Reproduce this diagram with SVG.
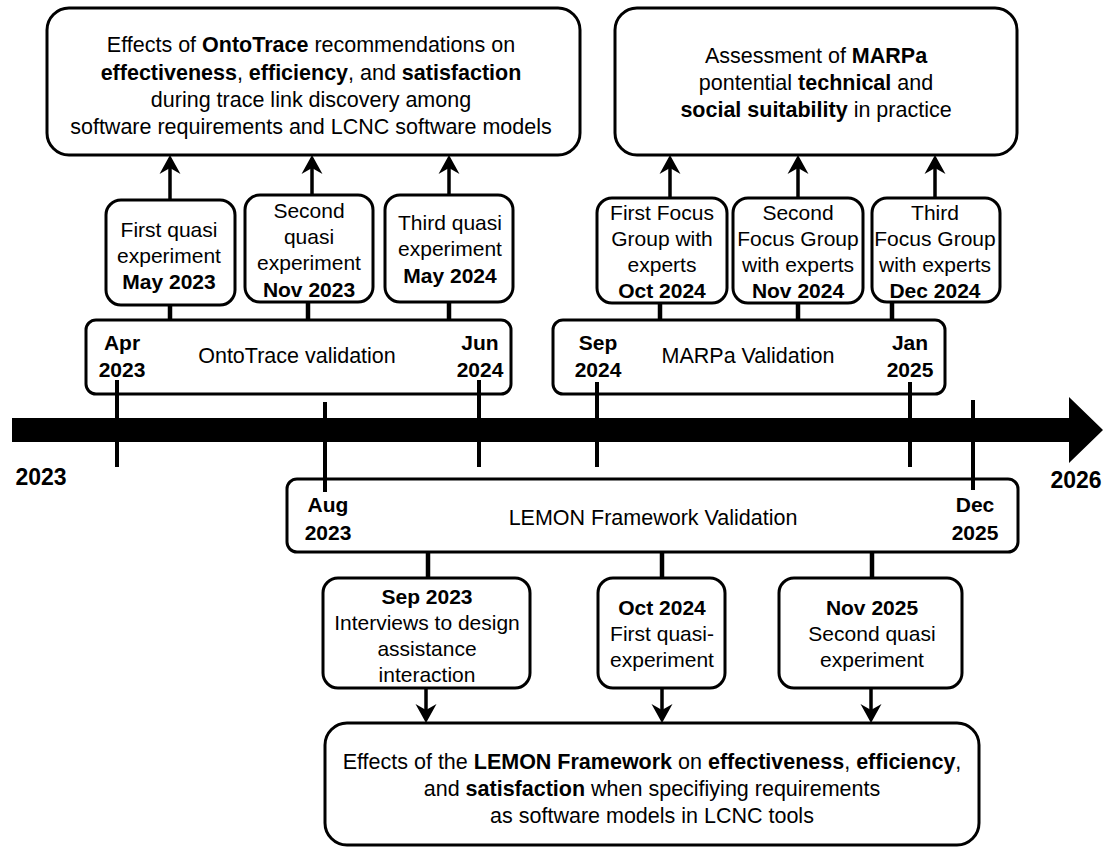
<svg xmlns="http://www.w3.org/2000/svg" width="1103" height="849" viewBox="0 0 1103 849">
<style>
  .box{fill:#fff;stroke:#000;stroke-width:3}
  text{font-family:"Liberation Sans",Arial,sans-serif;fill:#000;text-anchor:middle}
  .t{font-size:21px}
  .tl{font-size:21.5px}
  .b{font-weight:bold}
  .yr{font-size:23px;font-weight:bold}
  .con{stroke:#000;stroke-width:4.5;fill:none}
  .arr{stroke:#000;stroke-width:3.5;fill:none;marker-end:url(#ah)}
  .tick{stroke:#000;stroke-width:4}
</style>
<defs>
  <marker id="ah" markerUnits="userSpaceOnUse" markerWidth="20" markerHeight="24" viewBox="0 0 20 24" refX="7" refY="11.5" orient="auto">
    <path d="M0,1 L19,11.5 L0,22 L6,11.5 Z" fill="#000"/>
  </marker>
</defs>
<rect width="1103" height="849" fill="#fff"/>

<g id="timeline">
  <polygon points="12,418 1069,418 1069,397 1103,430 1069,463 1069,442 12,442" fill="#000"/>
  <text class="yr" x="41" y="485">2023</text>
  <text class="yr" x="1076" y="488">2026</text>
</g>

<g id="connectors">
  <line class="arr" x1="170" y1="200" x2="170" y2="167"/>
  <line class="arr" x1="312" y1="195" x2="312" y2="167"/>
  <line class="arr" x1="449" y1="195" x2="449" y2="167"/>
  <line class="arr" x1="670" y1="198" x2="670" y2="167"/>
  <line class="arr" x1="798" y1="198" x2="798" y2="167"/>
  <line class="arr" x1="935" y1="198" x2="935" y2="167"/>
  <line class="con" x1="170" y1="305" x2="170" y2="320"/>
  <line class="con" x1="308" y1="302" x2="308" y2="320"/>
  <line class="con" x1="449" y1="302" x2="449" y2="320"/>
  <line class="con" x1="660" y1="303" x2="660" y2="320"/>
  <line class="con" x1="798" y1="303" x2="798" y2="320"/>
  <line class="con" x1="892" y1="302" x2="892" y2="320"/>
  <line class="con" x1="428" y1="552" x2="428" y2="578"/>
  <line class="con" x1="662" y1="552" x2="662" y2="578"/>
  <line class="con" x1="872" y1="552" x2="872" y2="578"/>
  <line class="arr" x1="426" y1="688" x2="426" y2="711"/>
  <line class="arr" x1="662" y1="688" x2="662" y2="711"/>
  <line class="arr" x1="871" y1="688" x2="871" y2="711"/>
</g>

<g id="ontotrace-goal">
  <rect class="box" x="47" y="8" width="533" height="147" rx="22"/>
  <text class="tl" x="311" y="52">Effects of <tspan class="b">OntoTrace</tspan> recommendations on</text>
  <text class="tl" x="311" y="80"><tspan class="b">effectiveness</tspan>, <tspan class="b">efficiency</tspan>, and <tspan class="b">satisfaction</tspan></text>
  <text class="tl" x="311" y="107">during trace link discovery among</text>
  <text class="tl" x="311" y="134">software requirements and LCNC software models</text>
</g>

<g id="marpa-goal">
  <rect class="box" x="615" y="8" width="402" height="147" rx="22"/>
  <text class="tl" x="816" y="63">Assessment of <tspan class="b">MARPa</tspan></text>
  <text class="tl" x="816" y="90">pontential <tspan class="b">technical</tspan> and</text>
  <text class="tl" x="816" y="117"><tspan class="b">social suitability</tspan> in practice</text>
</g>

<g id="q1">
  <rect class="box" x="106" y="200" width="129" height="105" rx="15"/>
  <text class="t" x="169" y="237">First quasi</text>
  <text class="t" x="169" y="263">experiment</text>
  <text class="t b" x="169" y="289">May 2023</text>
</g>
<g id="q2">
  <rect class="box" x="245" y="195" width="128" height="107" rx="15"/>
  <text class="t" x="309" y="218">Second</text>
  <text class="t" x="309" y="244">quasi</text>
  <text class="t" x="309" y="270">experiment</text>
  <text class="t b" x="309" y="297">Nov 2023</text>
</g>
<g id="q3">
  <rect class="box" x="385" y="195" width="128" height="107" rx="15"/>
  <text class="t" x="450" y="230">Third quasi</text>
  <text class="t" x="450" y="256">experiment</text>
  <text class="t b" x="450" y="283">May 2024</text>
</g>

<g id="f1">
  <rect class="box" x="597" y="198" width="130" height="105" rx="15"/>
  <text class="t" x="662" y="220">First Focus</text>
  <text class="t" x="662" y="246">Group with</text>
  <text class="t" x="662" y="272">experts</text>
  <text class="t b" x="662" y="298">Oct 2024</text>
</g>
<g id="f2">
  <rect class="box" x="733" y="198" width="130" height="105" rx="15"/>
  <text class="t" x="798" y="220">Second</text>
  <text class="t" x="798" y="246">Focus Group</text>
  <text class="t" x="798" y="272">with experts</text>
  <text class="t b" x="798" y="298">Nov 2024</text>
</g>
<g id="f3">
  <rect class="box" x="872" y="198" width="128" height="104" rx="15"/>
  <text class="t" x="935" y="220">Third</text>
  <text class="t" x="935" y="246">Focus Group</text>
  <text class="t" x="935" y="272">with experts</text>
  <text class="t b" x="935" y="298">Dec 2024</text>
</g>

<g id="ontotrace-validation">
  <rect class="box" x="86" y="320" width="425" height="74" rx="10"/>
  <text class="t b" x="122" y="350">Apr</text>
  <text class="t b" x="122" y="377">2023</text>
  <text class="tl" x="297" y="363">OntoTrace validation</text>
  <text class="t b" x="480" y="350">Jun</text>
  <text class="t b" x="480" y="377">2024</text>
</g>

<g id="marpa-validation">
  <rect class="box" x="553" y="320" width="392" height="74" rx="10"/>
  <text class="t b" x="598" y="350">Sep</text>
  <text class="t b" x="598" y="377">2024</text>
  <text class="tl" x="748" y="363">MARPa Validation</text>
  <text class="t b" x="910" y="350">Jan</text>
  <text class="t b" x="910" y="377">2025</text>
</g>

<g id="lemon-validation">
  <rect class="box" x="287" y="479" width="731" height="73" rx="10"/>
  <text class="t b" x="328" y="512">Aug</text>
  <text class="t b" x="328" y="540">2023</text>
  <text class="tl" x="653" y="525">LEMON Framework Validation</text>
  <text class="t b" x="975" y="512">Dec</text>
  <text class="t b" x="975" y="540">2025</text>
</g>

<g id="ticks">
  <line class="tick" x1="117" y1="380" x2="117" y2="467"/>
  <line class="tick" x1="479" y1="380" x2="479" y2="467"/>
  <line class="tick" x1="597" y1="382" x2="597" y2="467"/>
  <line class="tick" x1="910" y1="382" x2="910" y2="467"/>
  <line class="tick" x1="325" y1="402" x2="325" y2="492"/>
  <line class="tick" x1="973" y1="400" x2="973" y2="490"/>
</g>

<g id="s1">
  <rect class="box" x="323" y="578" width="207" height="110" rx="15"/>
  <text class="t b" x="427" y="604">Sep 2023</text>
  <text class="t" x="427" y="630">Interviews to design</text>
  <text class="t" x="427" y="656">assistance</text>
  <text class="t" x="427" y="682">interaction</text>
</g>
<g id="o1">
  <rect class="box" x="598" y="578" width="127" height="110" rx="15"/>
  <text class="t b" x="662" y="615">Oct 2024</text>
  <text class="t" x="662" y="641">First quasi-</text>
  <text class="t" x="662" y="667">experiment</text>
</g>
<g id="n1">
  <rect class="box" x="779" y="578" width="183" height="110" rx="15"/>
  <text class="t b" x="872" y="615">Nov 2025</text>
  <text class="t" x="872" y="641">Second quasi</text>
  <text class="t" x="872" y="667">experiment</text>
</g>

<g id="lemon-goal">
  <rect class="box" x="325" y="723" width="654" height="122" rx="22"/>
  <text class="tl" x="652" y="769">Effects of the <tspan class="b">LEMON Framework</tspan> on <tspan class="b">effectiveness</tspan>, <tspan class="b">efficiency</tspan>,</text>
  <text class="tl" x="652" y="796">and <tspan class="b">satisfaction</tspan> when specifiying requirements</text>
  <text class="tl" x="652" y="823">as software models in LCNC tools</text>
</g>
</svg>
